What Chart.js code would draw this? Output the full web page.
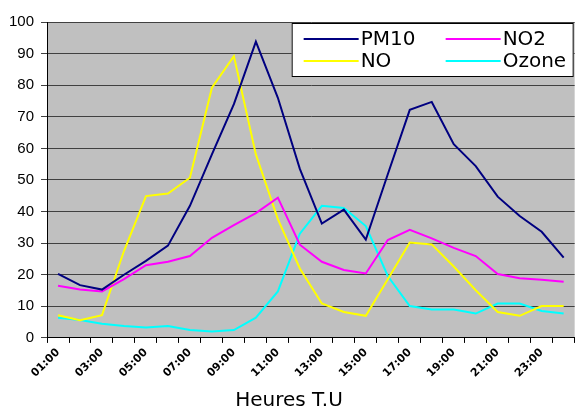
<!DOCTYPE html>
<html>
<head>
<meta charset="utf-8">
<script src="https://cdn.jsdelivr.net/npm/chart.js@4.4.0/dist/chart.umd.min.js"></script>
<style>
body { margin: 0; background: #fff; }
#wrap { width: 576px; height: 415px; }
</style>
</head>
<body>
<div id="wrap"><canvas id="chart" width="576" height="415"></canvas></div>
<script>
// Hourly values (T.U)
const hours = ['01:00', '02:00', '03:00', '04:00', '05:00', '06:00', '07:00', '08:00',
    '09:00', '10:00', '11:00', '12:00', '13:00', '14:00', '15:00', '16:00',
    '17:00', '18:00', '19:00', '20:00', '21:00', '22:00', '23:00', '24:00'];

const pm10  = [20.3, 16.7, 15.3, 20.0, 24.4, 29.2, 41.8, 58.1, 74.0, 93.8, 76.0, 53.5,
               36.2, 40.6, 31.1, 51.8, 72.2, 74.7, 61.3, 54.4, 44.7, 38.6, 33.6, 25.4];
const no2   = [16.5, 15.3, 14.7, 18.6, 23.0, 24.1, 25.9, 31.7, 35.7, 39.5, 44.4, 29.5,
               24.1, 21.5, 20.4, 31.0, 34.2, 31.5, 28.5, 25.9, 20.2, 18.9, 18.4, 17.8];
const no    = [7.2, 5.6, 7.2, 27.5, 44.9, 45.7, 50.7, 79.2, 89.2, 58.1, 37.6, 22.0,
               10.9, 8.2, 7.0, 18.6, 30.2, 29.6, 22.6, 15.1, 8.2, 7.0, 10.1, 10.1];
const ozone = [6.4, 5.7, 4.5, 3.8, 3.3, 3.8, 2.5, 2.0, 2.5, 6.4, 14.7, 33.0,
               41.8, 41.1, 35.4, 19.6, 10.1, 9.0, 9.0, 7.7, 10.9, 10.9, 8.5, 7.7];

const yTicks = [0, 10, 20, 30, 40, 50, 60, 70, 80, 90, 100];

const legendFont = '20px "DejaVu Sans"';

// grey plot background
const plotBackground = {
    id: 'plotBackground',
    beforeDraw(chart) {
        const { ctx, chartArea } = chart;
        ctx.save();
        ctx.fillStyle = '#c0c0c0';
        ctx.fillRect(chartArea.left, chartArea.top,
            chartArea.right - chartArea.left, chartArea.bottom - chartArea.top);
        ctx.restore();
    }
};

// boxed legend inside the plot, two columns
const legendBox = {
    id: 'legendBox',
    afterDraw(chart) {
        const { ctx, chartArea } = chart;
        const sets = chart.data.datasets;
        const boxW = 282, boxH = 54;
        const x0 = chartArea.right - boxW - 1;
        const y0 = chartArea.top + 1;
        ctx.save();
        ctx.fillStyle = '#fff';
        ctx.fillRect(x0, y0, boxW, boxH);
        ctx.strokeStyle = '#000';
        ctx.lineWidth = 1;
        ctx.strokeRect(x0 + 0.5, y0 + 0.5, boxW - 1, boxH - 1);
        ctx.font = legendFont;
        ctx.textBaseline = 'middle';
        sets.forEach((ds, n) => {
            const col = n % 2, row = Math.floor(n / 2);
            const lx = x0 + 12 + col * 142;
            const ly = y0 + 16 + row * 22;
            ctx.strokeStyle = ds.borderColor;
            ctx.lineWidth = 2;
            ctx.beginPath();
            ctx.moveTo(lx, ly);
            ctx.lineTo(lx + 55, ly);
            ctx.stroke();
            ctx.fillStyle = '#000';
            ctx.fillText(ds.label, lx + 57, ly + 1);
        });
        ctx.restore();
    }
};

new Chart(document.getElementById('chart'), {
    type: 'line',
    data: {
        labels: hours,
        datasets: [
            { label: 'PM10', data: pm10, borderColor: '#000080' },
            { label: 'NO2', data: no2, borderColor: '#ff00ff' },
            { label: 'NO', data: no, borderColor: '#ffff00' },
            { label: 'Ozone', data: ozone, borderColor: '#00ffff' }
        ]
    },
    options: {
        responsive: false,
        animation: false,
        layout: { padding: { top: 22, right: 0, left: 2, bottom: 0 } },
        elements: {
            point: { radius: 0 },
            line: { borderWidth: 2, tension: 0, fill: false }
        },
        plugins: {
            legend: { display: false },
            tooltip: { enabled: false },
            title: {
                display: true,
                text: 'Heures T.U',
                position: 'bottom',
                color: '#000',
                font: { family: 'DejaVu Sans', size: 20, weight: 'normal' },
                padding: { top: 6, bottom: 2 }
            }
        },
        scales: {
            x: {
                offset: true,
                grid: { offset: true, drawOnChartArea: false, drawTicks: true, tickLength: 5, color: '#000' },
                border: { color: '#000', width: 1 },
                ticks: {
                    autoSkip: false,
                    minRotation: 45,
                    maxRotation: 45,
                    color: '#000',
                    font: { family: 'DejaVu Sans', size: 11, weight: 'bold' },
                    callback: (v, i) => (i % 2 === 0 ? hours[i] : '')
                }
            },
            y: {
                min: yTicks[0],
                max: yTicks[yTicks.length - 1],
                afterBuildTicks: axis => { axis.ticks = yTicks.map(v => ({ value: v })); },
                grid: { color: '#404040', tickLength: 6 },
                border: { color: '#000', width: 1 },
                ticks: {
                    color: '#000',
                    padding: 7,
                    font: { family: 'Liberation Sans', size: 15 }
                }
            }
        }
    },
    plugins: [plotBackground, legendBox]
});
</script>
</body>
</html>
